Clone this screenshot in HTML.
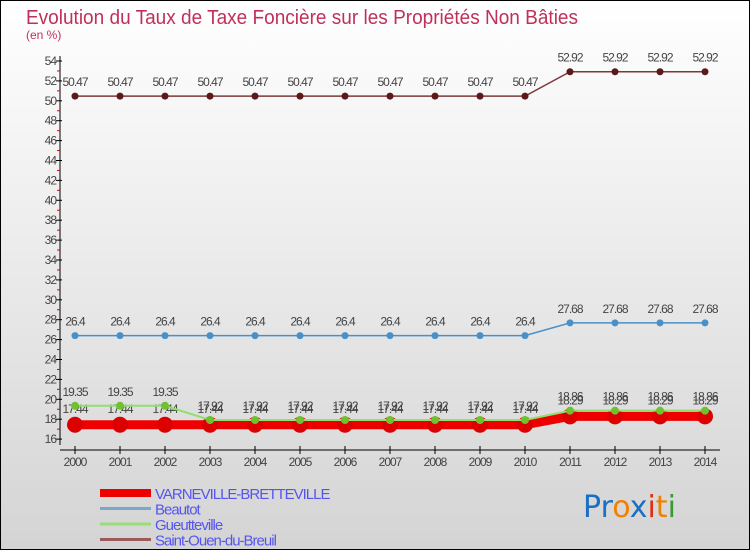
<!DOCTYPE html>
<html><head><meta charset="utf-8"><style>
body{margin:0}
#c{width:750px;height:550px;position:relative;font-family:"Liberation Sans",sans-serif}
</style></head><body>
<div id="c">
<svg id="s" width="750" height="550" xmlns="http://www.w3.org/2000/svg">
<defs><linearGradient id="bg" x1="0" y1="0" x2="0" y2="1"><stop offset="0" stop-color="#ffffff"/><stop offset="1" stop-color="#d4d4d4"/></linearGradient></defs>
<rect x="0.5" y="0.5" width="749" height="549" fill="url(#bg)" stroke="#000"/>
<text x="26" y="24" font-size="20" fill="#c0305a" textLength="552" lengthAdjust="spacingAndGlyphs">Evolution du Taux de Taxe Foncière sur les Propriétés Non Bâties</text>
<text x="26" y="39" font-size="12" fill="#c0305a">(en %)</text>
<g id="axes"></g><g id="series"></g><g id="legend"></g>
<text x="583" y="517" font-size="30" font-family="'DejaVu Sans',sans-serif"><tspan fill="#1a6fc4">Pr</tspan><tspan fill="#f08000">o</tspan><tspan fill="#1a6fc4">x</tspan><tspan fill="#e03010">i</tspan><tspan fill="#f08000">t</tspan><tspan fill="#3a9a30">i</tspan></text>
</svg></div>
<script>
const years=["2000","2001","2002","2003","2004","2005","2006","2007","2008","2009","2010","2011","2012","2013","2014"];
const yTicks=[16,18,20,22,24,26,28,30,32,34,36,38,40,42,44,46,48,50,52,54];
const varneville=[17.44,17.44,17.44,17.44,17.44,17.44,17.44,17.44,17.44,17.44,17.44,18.29,18.29,18.29,18.29];
const beautot=[26.4,26.4,26.4,26.4,26.4,26.4,26.4,26.4,26.4,26.4,26.4,27.68,27.68,27.68,27.68];
const gueutteville=[19.35,19.35,19.35,17.92,17.92,17.92,17.92,17.92,17.92,17.92,17.92,18.86,18.86,18.86,18.86];
const saintOuen=[50.47,50.47,50.47,50.47,50.47,50.47,50.47,50.47,50.47,50.47,50.47,52.92,52.92,52.92,52.92];
const NS="http://www.w3.org/2000/svg";
const X=i=>75+i*45, Y=v=>61+(54-v)*9.95;
function mk(p,t,a){const e=document.createElementNS(NS,t);for(const k in a)e.setAttribute(k,a[k]);p.appendChild(e);return e;}
const ax=document.getElementById('axes');
let l=mk(ax,'line',{x1:60,y1:56,x2:60,y2:445,stroke:'#000'});

l=mk(ax,'line',{x1:60,y1:450,x2:720,y2:450,stroke:'#000'});

yTicks.forEach(v=>{const y=Y(v);mk(ax,'line',{x1:56,y1:y,x2:62,y2:y,stroke:'#000'});
 if(v<54)mk(ax,'line',{x1:57,y1:Y(v+1),x2:60,y2:Y(v+1),stroke:'#e00000'});
 const t=mk(ax,'text',{x:56,y:y+4,'font-size':12,'text-anchor':'end',fill:'#444','letter-spacing':'-1'});t.textContent=v;
 });
years.forEach((yr,i)=>{mk(ax,'line',{x1:X(i),y1:446,x2:X(i),y2:454,stroke:'#000'});
 const t=mk(ax,'text',{x:X(i),y:466,'font-size':12,'text-anchor':'middle',fill:'#444','letter-spacing':'-1'});t.textContent=yr;
 });
const sg=document.getElementById('series');
function series(name,data,color,w,r,dot,lab){
 const g=mk(sg,'g',{});
 mk(g,'polyline',{points:data.map((v,i)=>X(i)+','+Y(v)).join(' '),fill:'none',stroke:color,'stroke-width':w});
 data.forEach((v,i)=>{const c=mk(g,'circle',{cx:X(i),cy:Y(v),r:r,fill:dot});
  
  const t=mk(g,'text',{x:X(i),y:Y(v)-lab,'font-size':12,'text-anchor':'middle',fill:'#444','letter-spacing':'-1'});t.textContent=v;
  });
}
series('saint-ouen',saintOuen,'#7a3a3a',1.5,3.5,'#5a1a1a',10);
series('beautot',beautot,'#4a90c8',1.5,3.5,'#4a90c8',10);
series('varneville',varneville,'#ee0000',9,8,'#dd0000',12);
series('gueutteville',gueutteville,'#90e070',2,4,'#70c030',10);
const lg=document.getElementById('legend');
const leg=[["VARNEVILLE-BRETTEVILLE","#ee0000",8],["Beautot","#7aa8cc",3],["Gueutteville","#99dd77",3],["Saint-Ouen-du-Breuil","#9a5a5a",3]];
leg.forEach((e,i)=>{const y=493+i*15.5;const g=mk(lg,'g',{});
 
 mk(g,'line',{x1:100,y1:y,x2:151,y2:y,stroke:e[1],'stroke-width':e[2]});
 const t=mk(g,'text',{x:155,y:y+6,'font-size':15,fill:'#5555ee','letter-spacing':'-1'});t.textContent=e[0];});
</script>
</body></html>
